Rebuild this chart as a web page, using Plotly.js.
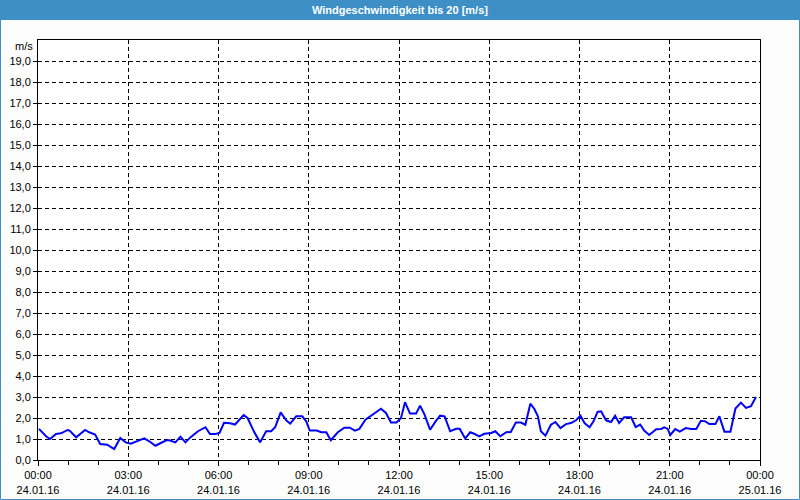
<!DOCTYPE html>
<html>
<head>
<meta charset="utf-8">
<script src="https://cdn.plot.ly/plotly-3.0.1.min.js"></script>
<style>
html,body{margin:0;padding:0;background:#fcfdfc;}
#chart{width:800px;height:500px;}
</style>
</head>
<body>
<div id="chart"></div>
<script>
const day = "2016-01-24";
const times = ["00:02","00:16","00:24","00:36","00:46","00:59","01:03","01:16","01:34","01:42","01:54",
"02:04","02:18","02:32","02:44","02:55","03:05","03:19","03:32","03:42","03:54","04:05","04:16","04:22",
"04:34","04:44","04:54","05:05","05:19","05:34","05:43","05:54","06:02","06:11","06:23","06:33","06:50",
"06:58","07:11","07:23","07:35","07:45","07:53","08:04","08:15","08:23","08:35","08:47","08:55","09:02",
"09:16","09:25","09:35","09:44","09:58","10:11","10:22","10:32","10:41","10:53","11:08","11:24","11:34",
"11:44","11:55","12:04","12:12","12:22","12:34","12:42","12:51","13:02","13:13","13:22","13:31","13:42",
"13:54","14:01","14:12","14:22","14:30","14:40","14:50","15:04","15:12","15:22","15:34","15:43","15:53",
"16:03","16:12","16:22","16:30","16:37","16:43","16:52","17:03","17:12","17:22","17:33","17:43","17:53",
"18:02","18:10","18:20","18:28","18:36","18:43","18:53","19:03","19:11","19:19","19:29","19:43","19:52",
"20:01","20:09","20:19","20:33","20:43","20:49","20:56","21:01","21:11","21:20","21:32","21:43","21:53",
"22:02","22:11","22:19","22:31","22:39","22:49","23:01","23:11","23:22","23:32","23:42","23:52"];
const speed = [1.48,1.13,1.00,1.24,1.27,1.43,1.40,1.08,1.43,1.32,1.21,
0.76,0.73,0.52,1.05,0.84,0.78,0.92,1.03,0.89,0.68,0.81,0.94,0.94,
0.84,1.11,0.84,1.10,1.37,1.56,1.24,1.24,1.29,1.77,1.75,1.69,2.14,
2.00,1.34,0.84,1.37,1.37,1.56,2.27,1.89,1.73,2.08,2.08,1.84,1.40,
1.40,1.32,1.32,0.94,1.32,1.54,1.54,1.40,1.48,1.92,2.16,2.44,2.24,
1.79,1.79,2.00,2.75,2.21,2.21,2.59,2.16,1.44,1.84,2.11,2.08,1.37,
1.49,1.49,1.02,1.32,1.25,1.13,1.25,1.29,1.37,1.13,1.32,1.33,1.78,
1.78,1.68,2.68,2.43,2.08,1.37,1.16,1.68,1.81,1.52,1.71,1.76,1.89,
2.11,1.76,1.56,1.84,2.29,2.32,1.89,1.81,2.11,1.76,2.03,2.03,1.57,
1.69,1.40,1.19,1.47,1.48,1.55,1.48,1.19,1.47,1.35,1.52,1.48,1.48,
1.87,1.84,1.71,1.71,2.08,1.35,1.35,2.45,2.73,2.48,2.56,3.00];
const yTicks = [0,1,2,3,4,5,6,7,8,9,10,11,12,13,14,15,16,17,18,19];
const titleText = "Windgeschwindigkeit bis 20 [m/s]";
const unitText = "m/s";
const xStart = "2016-01-24 00:00";
const xEnd = "2016-01-25 00:00";

const x = times.map(t => day + " " + t);

const trace = {
  x: x, y: speed, type: "scatter", mode: "lines",
  line: {color: "#0000ff", width: 2},
  hoverinfo: "skip"
};

const font = {family: "Liberation Sans, Arial, sans-serif", size: 11, color: "#000"};

const layout = {
  width: 800, height: 500,
  paper_bgcolor: "#fcfdfc",
  plot_bgcolor: "#ffffff",
  separators: ", ",
  showlegend: false,
  margin: {l: 38, r: 40, t: 40, b: 40},
  font: font,
  xaxis: {
    type: "date",
    range: [xStart, xEnd],
    tickmode: "linear",
    tick0: xStart,
    dtick: 3 * 3600 * 1000,
    tickformat: "%H:%M<br>%d.%m.%y",
    ticks: "outside", ticklen: 5, tickcolor: "#000",
    showgrid: true, gridcolor: "#000", gridwidth: 1, griddash: "4px,3px",
    showline: true, linecolor: "#000", linewidth: 1, mirror: true,
    zeroline: false,
    tickfont: font,
    minor: {dtick: 3600 * 1000, ticks: "outside", ticklen: 4, tickcolor: "#000", showgrid: false}
  },
  yaxis: {
    range: [0, 20],
    tickmode: "array",
    tickvals: yTicks,
    tickformat: ".1f",
    ticks: "outside", ticklen: 4, tickcolor: "#000",
    showgrid: true, gridcolor: "#000", gridwidth: 1, griddash: "4px,3px",
    showline: true, linecolor: "#000", linewidth: 1, mirror: true,
    zeroline: false,
    tickfont: font
  },
  shapes: [
    {type: "rect", xref: "paper", yref: "paper", x0: -38/722, x1: 762/722, y0: 1 + 20/420, y1: 1 + 40/420,
     fillcolor: "#3d8fc6", line: {width: 0}, layer: "below"},
    {type: "rect", xref: "paper", yref: "paper", x0: -37.5/722, x1: 761.5/722, y0: -39.5/420, y1: 1 + 39.5/420,
     fillcolor: "rgba(0,0,0,0)", line: {color: "#3d8fc6", width: 1}}
  ],
  annotations: [
    {text: "<b>" + titleText + "</b>", xref: "paper", yref: "paper",
     x: 362/722, y: 1 + 30/420, xanchor: "center", yanchor: "middle", showarrow: false,
     font: {family: "Liberation Sans, Arial, sans-serif", size: 11, color: "#ffffff"}},
    {text: unitText, xref: "paper", yref: "paper", x: -3/722, y: 1 - 6/420,
     xanchor: "right", yanchor: "middle", showarrow: false, font: font}
  ]
};

Plotly.newPlot("chart", [trace], layout, {staticPlot: true, displayModeBar: false});
</script>
</body>
</html>
